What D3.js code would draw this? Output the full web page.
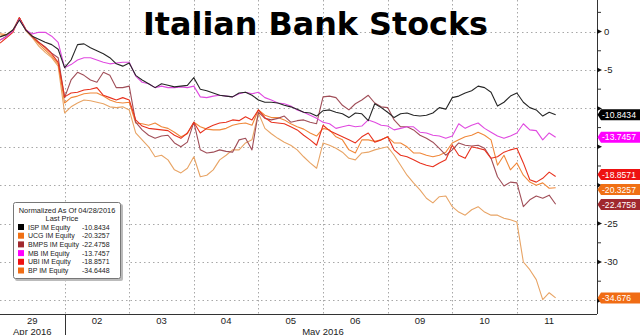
<!DOCTYPE html>
<html><head><meta charset="utf-8">
<script src="https://cdn.jsdelivr.net/npm/d3@7"></script>
<style>body{margin:0;background:#fff}svg{display:block}</style>
</head><body><svg id="c" width="640" height="335"></svg>
<script>
const title = "Italian Bank Stocks";
const dayLabels = ["29","02","03","04","05","06","09","10","11"];
const monthLabels = ["Apr 2016","May 2016"];
const monthSpans = [[0,1],[1,9]];
const samplesPerDay = 10;
const legendTitle = ["Normalized As Of 04/28/2016","Last Price"];
const names = ["ISP IM Equity","UCG IM Equity","BMPS IM Equity","MB IM Equity","UBI IM Equity","BP IM Equity"];
const legendValues = ["-10.8434","-20.3257","-22.4758","-13.7457","-18.8571","-34.6448"];
const lastLabels = ["-10.8434","-20.3257","-22.4758","-13.7457","-18.8571","-34.676"];
const yTicks = [0,-5,-10,-15,-20,-25,-30,-35];

const isp = [-0.7,-0.4,0.2,1.5,0.2,-0.6,-1.0,-1.4,-1.7,-2.3,
 -4.7,-3.7,-1.7,-1.6,-2.1,-2.5,-2.9,-3.4,-4.2,-4.5,
 -4.1,-5.7,-6.3,-6.8,-7.3,-6.8,-7.0,-7.2,-7.1,-7.0,
 -6.0,-7.5,-7.7,-8.0,-8.3,-8.4,-8.5,-8.0,-7.9,-8.3,
 -8.9,-9.2,-9.2,-9.3,-9.6,-9.8,-10.1,-10.5,-10.6,-11.0,
 -10.3,-10.2,-10.5,-10.7,-11.2,-10.6,-10.7,-11.6,-9.4,-9.9,
 -10.5,-11.2,-10.7,-10.6,-10.9,-11.0,-10.9,-10.6,-9.9,-10.1,
 -8.6,-8.4,-8.0,-7.7,-7.1,-7.3,-7.9,-9.7,-9.2,-8.4,
 -8.0,-9.2,-9.9,-10.2,-11.0,-10.5,-10.84];
const ucg = [-0.3,-0.4,0.1,1.8,0.2,-0.7,-1.6,-2.4,-3.2,-4.2,
 -9.3,-8.6,-8.4,-8.1,-8.0,-8.0,-8.4,-8.9,-9.2,-9.3,
 -9.2,-11.9,-12.0,-12.2,-11.9,-12.4,-12.6,-13.1,-13.7,-13.3,
 -11.8,-12.4,-12.7,-12.8,-12.8,-12.6,-12.2,-12.0,-11.9,-12.2,
 -10.2,-10.9,-11.2,-11.2,-11.5,-12.0,-12.4,-12.7,-13.2,-13.6,
 -12.6,-12.8,-13.7,-14.1,-15.4,-15.8,-14.1,-14.1,-14.3,-14.1,
 -13.7,-14.5,-14.5,-15.0,-15.8,-15.8,-16.1,-16.3,-16.1,-15.7,
 -14.5,-14.1,-13.7,-13.5,-13.1,-13.5,-14.1,-17.4,-16.1,-18.0,
 -17.1,-18.7,-19.6,-20.0,-19.7,-20.4,-20.33];
const bmps = [-1.1,-0.6,0.1,1.8,0.2,-0.7,-1.4,-2.0,-2.8,-3.4,
 -8.6,-6.3,-5.3,-5.7,-6.3,-6.6,-5.3,-5.7,-7.3,-7.3,
 -7.1,-11.8,-12.8,-13.5,-13.9,-13.6,-13.5,-14.5,-15.0,-14.4,
 -11.8,-15.4,-15.8,-15.7,-15.4,-15.6,-15.7,-14.1,-13.9,-15.4,
 -10.5,-11.3,-11.5,-11.3,-11.0,-11.8,-11.6,-11.5,-11.8,-12.0,
 -8.5,-8.4,-8.6,-9.6,-10.2,-9.4,-8.9,-8.3,-9.3,-9.8,
 -9.9,-11.5,-12.4,-12.4,-12.8,-13.5,-13.9,-14.4,-15.2,-16.1,
 -15.4,-14.5,-14.8,-14.9,-14.8,-15.2,-16.5,-18.9,-20.1,-19.6,
 -19.7,-22.8,-21.9,-21.4,-21.7,-21.3,-22.48];
const mb = [-1.1,-0.7,0.1,1.6,0.2,-0.3,-0.1,-0.1,-0.6,-1.4,
 -4.7,-4.3,-3.7,-3.4,-3.4,-3.7,-4.0,-4.2,-4.1,-4.0,
 -4.0,-5.8,-6.6,-6.8,-7.3,-7.1,-7.3,-7.3,-7.2,-7.3,
 -7.1,-8.5,-8.6,-8.4,-8.3,-8.4,-8.5,-8.1,-7.9,-8.1,
 -7.9,-8.6,-8.9,-9.3,-9.4,-9.7,-10.2,-10.5,-10.9,-11.3,
 -11.8,-12.0,-12.6,-12.4,-12.2,-12.4,-12.3,-11.5,-11.8,-12.2,
 -12.3,-12.8,-12.6,-12.4,-12.4,-13.1,-13.2,-13.5,-13.6,-13.9,
 -13.6,-12.0,-12.6,-12.2,-11.9,-12.6,-13.1,-13.6,-13.9,-13.6,
 -13.2,-12.0,-12.8,-12.9,-14.1,-13.2,-13.75];
const ubi = [-1.5,-0.8,-0.1,1.8,0.3,-0.6,-1.4,-2.1,-2.9,-4.0,
 -8.5,-8.0,-7.9,-7.6,-7.5,-7.3,-8.3,-8.6,-8.9,-8.6,
 -8.9,-11.5,-12.3,-12.6,-12.7,-12.8,-12.9,-13.5,-13.9,-13.2,
 -11.8,-13.2,-12.6,-12.2,-11.9,-11.8,-11.5,-11.6,-11.1,-11.5,
 -10.2,-11.2,-11.8,-11.9,-12.0,-12.4,-12.8,-13.5,-14.1,-14.8,
 -12.2,-12.9,-13.3,-13.7,-14.1,-14.5,-13.7,-13.2,-14.4,-14.1,
 -13.7,-15.4,-16.1,-16.3,-16.7,-17.1,-17.4,-17.6,-17.1,-16.7,
 -14.8,-16.1,-16.5,-15.0,-15.2,-15.4,-16.5,-16.3,-15.7,-15.4,
 -15.2,-17.1,-19.3,-19.6,-19.1,-18.3,-18.86];
const bp = [-0.6,-0.4,0.2,1.8,0.1,-0.8,-1.9,-2.7,-3.4,-4.5,
 -10.6,-9.8,-9.3,-8.9,-9.0,-9.2,-9.4,-9.8,-9.9,-9.8,
 -10.2,-13.2,-14.1,-15.0,-16.3,-16.1,-16.7,-18.0,-18.4,-17.8,
 -16.3,-18.9,-18.7,-18.0,-16.7,-16.1,-15.4,-15.4,-14.5,-14.1,
 -10.6,-12.6,-13.3,-13.9,-14.4,-14.8,-15.4,-16.3,-17.1,-17.8,
 -14.5,-14.8,-15.2,-15.7,-16.5,-16.7,-15.8,-15.7,-15.4,-15.2,
 -15.0,-16.1,-17.4,-18.7,-19.7,-20.6,-21.7,-22.3,-21.5,-21.4,
 -22.8,-23.5,-23.9,-23.2,-22.8,-23.5,-23.9,-23.9,-24.3,-24.5,
 -24.8,-30.0,-31.0,-32.3,-34.9,-34.0,-34.68];

const seriesValues = [isp, ucg, bmps, mb, ubi, bp];
const lineColors = ["#262626","#f0883a","#a04e58","#e04ae0","#e8321e","#e8a465"];
const boxColors = ["#000000","#f07014","#a0282e","#ff00ff","#ee1111","#f06c14"];

const W = 640, H = 335;
const plotR = 597, plotB = 314;
const FONT = "Liberation Sans, Arial, sans-serif";
const svg = d3.select("#c");
svg.append("rect").attr("width",W).attr("height",H).attr("fill","#fff");

const x = d3.scaleLinear().domain([0, 9.24]).range([0, plotR]);
const y = d3.scaleLinear().domain([4.11, -36.77]).range([0, plotB]);

// grid
const grid = svg.append("g");
grid.selectAll("line.h").data(yTicks).join("line")
  .attr("x1",0).attr("x2",plotR).attr("y1",d=>Math.round(y(d))+0.5).attr("y2",d=>Math.round(y(d))+0.5)
  .attr("stroke","#a8a8a8").attr("stroke-width",1).attr("stroke-dasharray","1.5,3");
grid.selectAll("line.v").data(d3.range(1, dayLabels.length)).join("line")
  .attr("x1",d=>Math.round(x(d))+0.5).attr("x2",d=>Math.round(x(d))+0.5).attr("y1",0).attr("y2",plotB)
  .attr("stroke","#a8a8a8").attr("stroke-width",1).attr("stroke-dasharray","1.5,2.5");

// lines
const line = d3.line().x((d,i)=>x(i/samplesPerDay)).y(d=>y(d));
const order = [5,1,2,4,3,0];
svg.append("g").selectAll("path").data(order).join("path")
  .attr("d",k=>line(seriesValues[k])).attr("fill","none")
  .attr("stroke",k=>lineColors[k]).attr("stroke-width",1.1).attr("stroke-linejoin","round");

// axes lines
svg.append("line").attr("x1",plotR+0.5).attr("x2",plotR+0.5).attr("y1",0).attr("y2",plotB)
  .attr("stroke","#333").attr("stroke-width",1);
svg.append("line").attr("x1",0).attr("x2",plotR).attr("y1",plotB+0.5).attr("y2",plotB+0.5)
  .attr("stroke","#333").attr("stroke-width",1);

// last-value label positions with collision avoidance
const lbl = seriesValues.map((s,k)=>({k, y:y(s[s.length-1])})).sort((a,b)=>a.y-b.y);
const gap = 15;
for (let it=0; it<20; it++) {
  for (let i=1;i<lbl.length;i++){
    const ov = gap - (lbl[i].y - lbl[i-1].y);
    if (ov>0){ lbl[i].y += ov/2; lbl[i-1].y -= ov/2; }
  }
}

// right axis ticks
const minor = d3.range(2.5, -37.5, -5);
svg.append("g").selectAll("line").data(minor).join("line")
  .attr("x1",plotR).attr("x2",plotR+4).attr("y1",d=>y(d)).attr("y2",d=>y(d))
  .attr("stroke","#333");
const maj = svg.append("g").selectAll("g").data(yTicks).join("g")
  .attr("transform",d=>`translate(${plotR},${y(d)})`);
maj.append("path").attr("d","M0,-2.5L5,0L0,2.5Z").attr("fill","#111");
maj.filter(d=>!lbl.some(b=>Math.abs(b.y-y(d))<11)).append("text")
  .attr("x",7).attr("y",3.2).text(d=>String(d))
  .attr("font-family",FONT).attr("font-size",9.5).attr("fill","#222");

// bottom axis labels
const ax = svg.append("g").attr("font-family",FONT).attr("font-size",9.5).attr("fill","#222");
ax.selectAll("text.d").data(dayLabels).join("text")
  .attr("x",(d,i)=>x(i+0.5)).attr("y",324).attr("text-anchor","middle").text(d=>d);
ax.selectAll("text.m").data(monthLabels).join("text")
  .attr("x",(d,i)=>x((monthSpans[i][0]+monthSpans[i][1])/2)).attr("y",334.5).attr("text-anchor","middle").text(d=>d);
svg.append("line").attr("x1",Math.round(x(1))+0.5).attr("x2",Math.round(x(1))+0.5).attr("y1",plotB).attr("y2",H).attr("stroke","#333");

// last-value labels
const lg = svg.append("g").selectAll("g").data(lbl).join("g")
  .attr("transform",d=>`translate(${plotR},${d.y})`);
lg.append("path").attr("d","M0.5,0L4,-5.5L45,-5.5L45,5.5L4,5.5Z").attr("fill",d=>boxColors[d.k]);
lg.append("text").attr("x",5).attr("y",3.1).text(d=>lastLabels[d.k])
  .attr("font-family",FONT).attr("font-size",8.6).attr("fill","#fff");

// title
svg.append("text").attr("x",143).attr("y",35).text(title)
  .attr("font-family","DejaVu Sans, Verdana, sans-serif").attr("font-weight","bold")
  .attr("font-size",32).attr("fill","#000").attr("textLength",345).attr("lengthAdjust","spacingAndGlyphs");

// legend
const L = svg.append("g").attr("font-family",FONT).attr("font-size",7).attr("fill","#222");
L.append("rect").attr("x",15).attr("y",204).attr("width",108).attr("height",77).attr("rx",2).attr("fill","#bbb");
L.append("rect").attr("x",13.5).attr("y",202.5).attr("width",107).attr("height",76).attr("rx",2)
  .attr("fill","#fff").attr("stroke","#777");
L.append("text").attr("x",67).attr("y",212.5).attr("text-anchor","middle").attr("font-size",7.4).text(legendTitle[0]);
L.append("text").attr("x",62).attr("y",221).attr("text-anchor","middle").attr("font-size",7.4).text(legendTitle[1]);
const rows = L.selectAll("g.r").data(names).join("g").attr("transform",(d,i)=>`translate(0,${227+i*8.7})`);
rows.append("rect").attr("x",18).attr("y",-3).attr("width",6).attr("height",6).attr("fill",(d,i)=>boxColors[i]);
rows.append("text").attr("x",28).attr("y",2.6).text(d=>d);
rows.append("text").attr("x",82).attr("y",2.6).text((d,i)=>legendValues[i]);
</script></body></html>
